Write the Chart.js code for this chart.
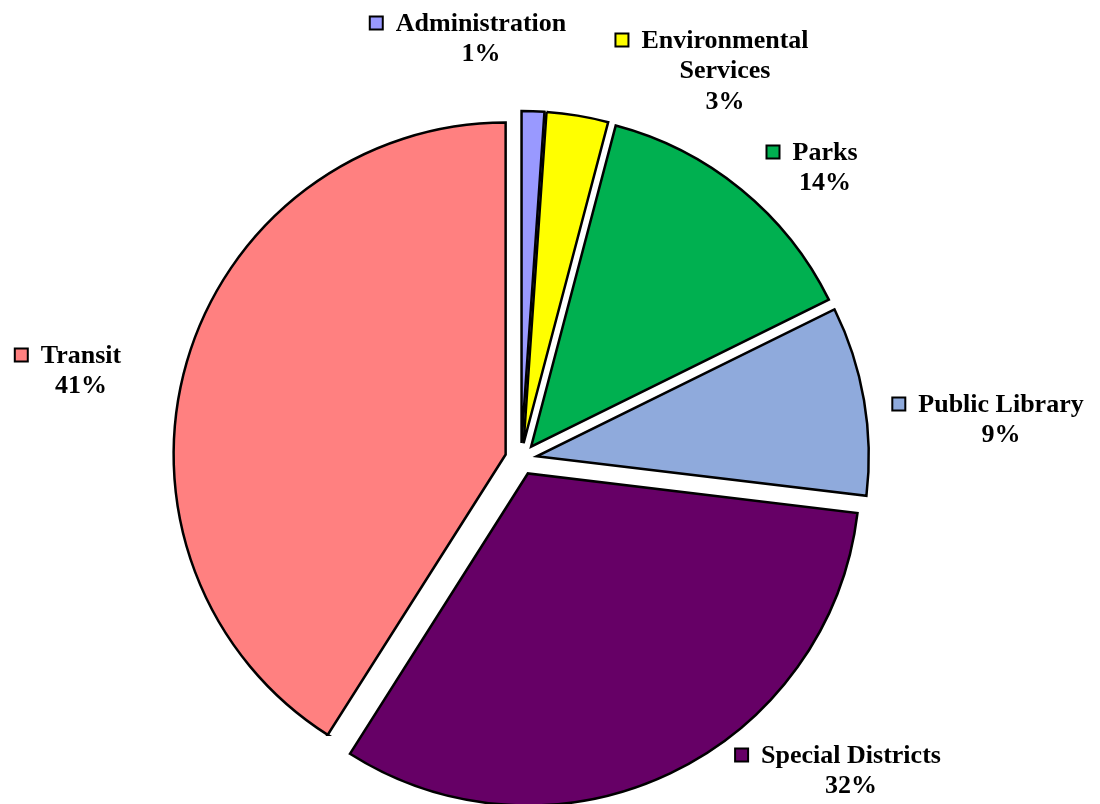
<!DOCTYPE html>
<html>
<head>
<meta charset="utf-8">
<script src="https://cdn.jsdelivr.net/npm/chart.js@4"></script>
<style>
  html, body { margin: 0; padding: 0; background: #ffffff; }
  #wrap { width: 1100px; height: 804px; }
</style>
</head>
<body>
<div id="wrap"><canvas id="c" width="1100" height="804"></canvas></div>
<script>
// ---- data ----
const categories = ["Administration", "Environmental Services", "Parks", "Public Library", "Special Districts", "Transit"];
const labelLines = [["Administration"], ["Environmental", "Services"], ["Parks"], ["Public Library"], ["Special Districts"], ["Transit"]];
const shares = [1.1, 3.0, 13.6, 9.2, 32.1, 41.0];
const colors = ["#9999FF", "#FFFF00", "#00B050", "#8FAADC", "#660066", "#FF8080"];

// label anchor: centre x of text block, middle y of first line
const labelAnchors = [
  {x: 481, y: 24}, {x: 725, y: 41}, {x: 825, y: 153},
  {x: 1001, y: 405}, {x: 851, y: 756}, {x: 81, y: 356}
];

const explodePlugin = {
  id: 'explode',
  afterDatasetUpdate(chart, args, opts) {
    args.meta.data.forEach(arc => {
      const mid = (arc.startAngle + arc.endAngle) / 2;
      arc.x += Math.cos(mid) * opts.distance;
      arc.y += Math.sin(mid) * opts.distance;
    });
  }
};

const labelPlugin = {
  id: 'sliceLabels',
  afterDraw(chart, args, opts) {
    const ctx = chart.ctx;
    const ds = chart.data.datasets[0];
    const total = ds.data.reduce((a, b) => a + b, 0);
    ctx.save();
    ctx.font = 'bold 26px "Liberation Serif", "Times New Roman", serif';
    ctx.textAlign = 'center';
    ctx.textBaseline = 'middle';
    ctx.fillStyle = '#000000';
    const lh = 30.5;
    labelLines.forEach((lines, i) => {
      const a = opts.anchors[i];
      const all = lines.concat([Math.round(ds.data[i] / total * 100) + '%']);
      all.forEach((t, k) => ctx.fillText(t, a.x, a.y + k * lh));
      const w = ctx.measureText(lines[0]).width;
      const sq = 13;
      const sx = a.x - w / 2 - 13 - sq;
      const sy = a.y - sq / 2 - 1;
      ctx.fillStyle = colors[i];
      ctx.fillRect(sx, sy, sq, sq);
      ctx.lineWidth = 2;
      ctx.strokeStyle = '#000000';
      ctx.strokeRect(sx, sy, sq, sq);
      ctx.fillStyle = '#000000';
    });
    ctx.restore();
  }
};

new Chart(document.getElementById('c'), {
  type: 'pie',
  data: {
    labels: categories,
    datasets: [{
      data: shares,
      backgroundColor: colors,
      borderColor: '#000000',
      borderWidth: 2.5,
      borderJoinStyle: 'miter',
      radius: 332
    }]
  },
  options: {
    responsive: false,
    devicePixelRatio: 1,
    animation: false,
    layout: { padding: { left: 0, right: 58, top: 114, bottom: 0 } },
    plugins: {
      legend: { display: false },
      tooltip: { enabled: false },
      explode: { distance: 16 },
      sliceLabels: { anchors: labelAnchors }
    }
  },
  plugins: [explodePlugin, labelPlugin]
});
</script>
</body>
</html>
